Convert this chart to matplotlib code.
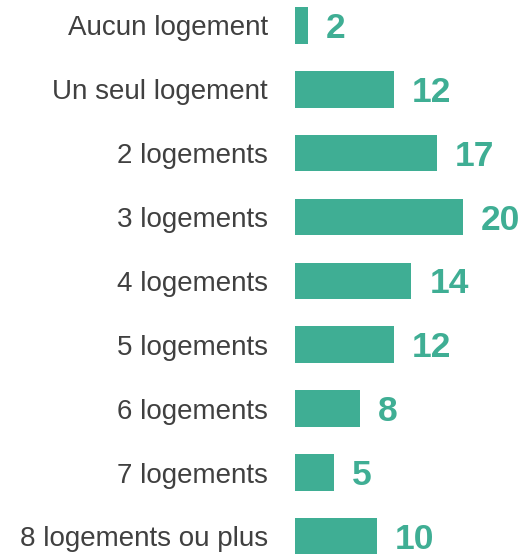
import matplotlib.pyplot as plt

# Data
categories = ["Aucun logement", "Un seul logement", "2 logements", "3 logements",
              "4 logements", "5 logements", "6 logements", "7 logements",
              "8 logements ou plus"]
values = [2, 12, 17, 20, 14, 12, 8, 5, 10]

bar_color = "#3fae94"
text_color = "#404040"

plt.rcParams["font.family"] = ["Liberation Sans", "DejaVu Sans"]

fig = plt.figure(figsize=(5.25, 5.54), dpi=100)
ax = fig.add_axes([295 / 525, 0, 1 - 295 / 525, 1])

pos = list(range(len(categories)))
ax.barh(pos, values, height=0.575, color=bar_color)

for p, v in zip(pos, values):
    ax.annotate(str(v), xy=(v, p), xytext=(13, -2.2), textcoords="offset points",
                va="center", ha="left", fontsize=25.5, fontweight="bold",
                color=bar_color)

ax.set_yticks(pos)
ax.set_yticklabels(categories, fontsize=20, color=text_color)
ax.tick_params(axis="y", length=0, pad=19.4)
ax.set_xticks([])
ax.set_xlim(0.5, 27.2)
ax.set_ylim(8.274, -0.396)
for s in ax.spines.values():
    s.set_visible(False)

fig.savefig("out.png", dpi=100)
